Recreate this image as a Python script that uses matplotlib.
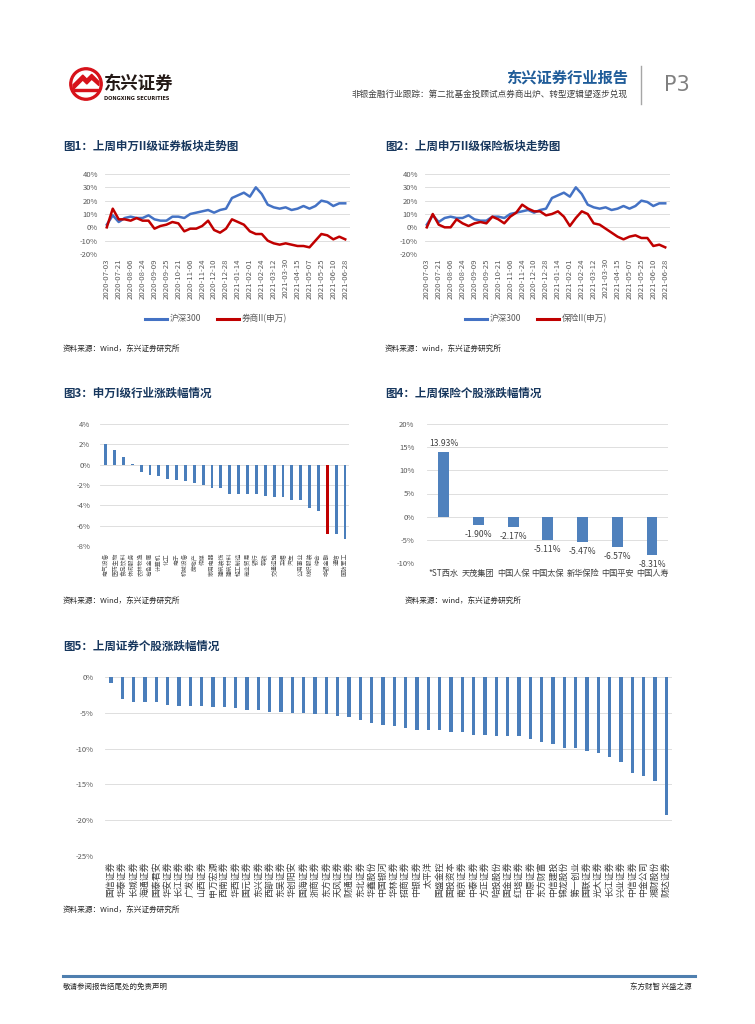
import matplotlib
matplotlib.use('Agg')
import matplotlib.pyplot as plt
from matplotlib.patches import Circle, Polygon
from matplotlib.lines import Line2D
import numpy as np

plt.rcParams['font.family'] = ['Noto Sans CJK SC', 'DejaVu Sans']
plt.rcParams['axes.unicode_minus'] = False

# ---------------- data ----------------
date_ticks = ['2020-07-03', '2020-07-21', '2020-08-06', '2020-08-24', '2020-09-09',
              '2020-09-25', '2020-10-21', '2020-11-06', '2020-11-24', '2020-12-10',
              '2020-12-28', '2021-01-14', '2021-02-01', '2021-02-24', '2021-03-12',
              '2021-03-30', '2021-04-15', '2021-05-07', '2021-05-25', '2021-06-10',
              '2021-06-28']
hs300 = [2, 9, 4, 7, 8, 7, 7, 9, 6, 5, 5, 8, 8, 7, 10, 11, 12, 13, 11, 13, 14,
         22, 24, 26, 23, 30, 25, 17, 15, 14, 15, 13, 14, 16, 14, 16, 20, 19, 16, 18, 18]
securities_ii = [0, 14, 6, 6, 5, 7, 5, 5, -1, 1, 2, 4, 3, -3, -1, -1, 1, 5, -2, -4, -1,
                 6, 4, 2, -3, -5, -5, -10, -12, -13, -12, -13, -14, -14, -15, -10, -5, -6, -9, -7, -9]
insurance_ii = [0, 10, 2, 0, 0, 6, 3, 1, 3, 4, 3, 8, 6, 3, 8, 11, 17, 14, 12, 12, 9,
                10, 12, 8, 1, 7, 12, 10, 3, 2, -1, -4, -7, -9, -7, -6, -8, -8, -14, -13, -15]

ind_names = ['电气设备', '医药生物', '食品饮料', '休闲服务', '农林牧渔', '有色金属', '计算机',
             '化工', '电子', '机械设备', '房地产', '传媒', '家用电器', '建筑装饰', '建筑材料',
             '轻工制造', '商业贸易', '银行', '钢铁', '交通运输', '采掘', '汽车', '公用事业',
             '纺织服装', '综合', '非银金融', '通信', '国防军工']
ind_chg = [2.00, 1.48, 0.72, 0.05, -0.72, -0.98, -1.15, -1.41, -1.51, -1.64, -1.84, -1.97,
           -2.26, -2.33, -2.85, -2.85, -2.85, -2.92, -3.08, -3.15, -3.15, -3.44, -3.44,
           -4.23, -4.56, -6.82, -6.82, -7.31]

ins_names = ['*ST西水', '天茂集团', '中国人保', '中国太保', '新华保险', '中国平安', '中国人寿']
ins_chg = [13.93, -1.90, -2.17, -5.11, -5.47, -6.57, -8.31]

sec_names = ['国信证券', '华泰证券', '长城证券', '海通证券', '国泰君安', '华安证券', '长江证券',
             '广发证券', '山西证券', '申万宏源', '西南证券', '华西证券', '国元证券', '东兴证券',
             '西部证券', '东吴证券', '华创阳安', '国海证券', '浙商证券', '东方证券', '天风证券',
             '财通证券', '东北证券', '华鑫股份', '中国银河', '华林证券', '招商证券', '中银证券',
             '太平洋', '国盛金控', '国投资本', '南京证券', '中泰证券', '方正证券', '哈投股份',
             '国金证券', '红塔证券', '中原证券', '东方财富', '中信建投', '锦龙股份', '第一创业',
             '国联证券', '光大证券', '长江证券', '兴业证券', '中信证券', '中金公司', '湘财股份',
             '财达证券']
sec_chg = [-0.84, -3.13, -3.46, -3.55, -3.55, -3.97, -4.07, -4.07, -4.07, -4.21, -4.25,
           -4.39, -4.63, -4.63, -4.86, -4.86, -5.09, -5.09, -5.23, -5.23, -5.51, -5.65,
           -6.03, -6.40, -6.73, -6.87, -7.06, -7.38, -7.38, -7.38, -7.62, -7.62, -8.04,
           -8.13, -8.27, -8.27, -8.27, -8.64, -9.07, -9.30, -9.95, -9.95, -10.28, -10.56,
           -11.12, -11.82, -13.36, -13.79, -14.53, -19.30]

# ---------------- helpers ----------------
W, H = 755, 1024
fig = plt.figure(figsize=(7.55, 10.24), dpi=100)

def fx(x):
    return x / W

def fy(y):
    return 1 - y / H

def add_ax(l, t, r, b):
    return fig.add_axes([fx(l), fy(b), (r - l) / W, (b - t) / H])

def ftext(x, y, s, **kw):
    fig.text(fx(x), fy(y), s, **kw)

TITLE_C = '#17375E'
GRID_C = '#D9D9D9'
TICK_C = '#595959'
BLUE = '#4472C4'
BAR = '#4A7EBB'
RED = '#C00000'

def style(ax):
    for s in ax.spines.values():
        s.set_visible(False)
    ax.tick_params(length=0)
    ax.grid(axis='y', color=GRID_C, lw=0.6)
    ax.set_axisbelow(True)

def pct_labels(vals):
    return ['%d%%' % v for v in vals]

# ---------------- header ----------------
lax = fig.add_axes([fx(69), fy(101), 34 / W, 34 / H])
lax.set_xlim(-1.05, 1.05)
lax.set_ylim(-1.05, 1.05)
lax.set_aspect('equal')
lax.axis('off')
lax.add_patch(Circle((0, 0), 1.0, color='#D7121A'))
lax.add_patch(Circle((0, 0), 0.80, color='white'))
lax.add_patch(Polygon([(-0.8, -0.05), (-0.2, 0.55), (0.05, 0.3), (0.35, 0.6), (0.8, 0.15),
                       (0.8, -0.1), (0.35, 0.3), (0.05, 0.0), (-0.2, 0.25), (-0.8, -0.35)],
                      color='#D7121A'))
lax.add_patch(Polygon([(-0.75, -0.45), (0.75, -0.45), (0.75, -0.3), (-0.75, -0.3)], color='#D7121A'))
ftext(104, 84, '东兴证券', fontsize=12.5, fontweight='bold', color='#231815', ha='left', va='center')
ftext(104, 98, 'DONGXING SECURITIES', fontsize=3.6, color='#231815', ha='left', va='center',
      family='DejaVu Sans', fontweight='bold')
ftext(628, 78, '东兴证券行业报告', fontsize=11, fontweight='bold', color='#1F5C99', ha='right', va='center')
ftext(628, 94, '非银金融行业跟踪：第二批基金投顾试点券商出炉、转型逻辑望逐步兑现', fontsize=6.2,
      color='#404040', ha='right', va='center')
fig.add_artist(Line2D([fx(641), fx(641)], [fy(66), fy(104)], color='#A6A6A6', lw=1.0))
ftext(664, 85, 'P3', fontsize=15, color='#808080', ha='left', va='center', family='DejaVu Sans')

# ---------------- titles / sources ----------------
ftext(63, 146, '图1：上周申万II级证券板块走势图', fontsize=8.3, fontweight='bold', color=TITLE_C, va='center')
ftext(385, 146, '图2：上周申万II级保险板块走势图', fontsize=8.3, fontweight='bold', color=TITLE_C, va='center')
ftext(63, 393, '图3：申万I级行业涨跌幅情况', fontsize=8.3, fontweight='bold', color=TITLE_C, va='center')
ftext(385, 393, '图4：上周保险个股涨跌幅情况', fontsize=8.3, fontweight='bold', color=TITLE_C, va='center')
ftext(63, 646, '图5：上周证券个股涨跌幅情况', fontsize=8.3, fontweight='bold', color=TITLE_C, va='center')

src_kw = dict(fontsize=5.5, color='#262626', va='center', style='italic')
ftext(63, 349, '资料来源：Wind，东兴证券研究所', **src_kw)
ftext(385, 349, '资料来源：wind，东兴证券研究所', **src_kw)
ftext(63, 601, '资料来源：Wind，东兴证券研究所', **src_kw)
ftext(405, 601, '资料来源：wind，东兴证券研究所', **src_kw)
ftext(63, 910, '资料来源：Wind，东兴证券研究所', **src_kw)

# ---------------- line charts ----------------
def line_chart(l, r, red_series, red_label, leg_x):
    ax = add_ax(l, 174, r, 254)
    x = np.arange(len(hs300))
    ax.plot(x, hs300, color=BLUE, lw=1.8, solid_joinstyle='round')
    ax.plot(x, red_series, color=RED, lw=1.8, solid_joinstyle='round')
    ax.set_ylim(-20, 40)
    yt = list(range(-20, 41, 10))
    ax.set_yticks(yt)
    ax.set_yticklabels(pct_labels(yt), fontsize=5.5, color=TICK_C)
    ax.set_xlim(-0.3, 40.8)
    ax.set_xticks(np.arange(0, 41, 2))
    ax.set_xticklabels(date_ticks, rotation=90, fontsize=5.6, color=TICK_C)
    style(ax)
    ax.tick_params(axis='y', pad=5)
    ax.tick_params(axis='x', pad=3)
    # legend
    fig.add_artist(Line2D([fx(leg_x), fx(leg_x + 22)], [fy(319), fy(319)], color=BLUE, lw=2.2))
    ftext(leg_x + 25, 319, '沪深300', fontsize=6.2, color=TICK_C, va='center')
    fig.add_artist(Line2D([fx(leg_x + 72), fx(leg_x + 94)], [fy(319), fy(319)], color=RED, lw=2.2))
    ftext(leg_x + 97, 319, red_label, fontsize=6.2, color=TICK_C, va='center')
    return ax

line_chart(105, 350, securities_ii, '券商II(申万)', 145)
line_chart(425, 670, insurance_ii, '保险II(申万)', 465)

# ---------------- fig3 ----------------
ax3 = add_ax(100, 424, 349, 546)
x3 = np.arange(len(ind_chg))
cols3 = [RED if n == '非银金融' else BAR for n in ind_names]
ax3.bar(x3, ind_chg, width=0.32, color=cols3)
ax3.set_ylim(-8, 4)
yt3 = list(range(-8, 5, 2))
ax3.set_yticks(yt3)
ax3.set_yticklabels(pct_labels(yt3), fontsize=5.5, color=TICK_C)
ax3.set_xlim(-0.64, 27.45)
ax3.set_xticks(x3)
ax3.set_xticklabels(ind_names, rotation=90, fontsize=4.2, color=TICK_C)
style(ax3)
ax3.tick_params(axis='y', pad=7)
ax3.tick_params(axis='x', pad=5)

# ---------------- fig4 ----------------
ax4 = add_ax(427, 424, 668, 563)
x4 = np.arange(len(ins_chg))
ax4.bar(x4, ins_chg, width=0.31, color='#4F81BD')
ax4.set_ylim(-10, 20)
yt4 = list(range(-10, 21, 5))
ax4.set_yticks(yt4)
ax4.set_yticklabels(pct_labels(yt4), fontsize=5.5, color=TICK_C)
ax4.set_xlim(-0.48, 6.46)
ax4.set_xticks(x4)
ax4.set_xticklabels(ins_names, fontsize=5.9, color='#404040')
style(ax4)
ax4.tick_params(axis='y', pad=9)
ax4.tick_params(axis='x', pad=4)
for i, v in enumerate(ins_chg):
    if v >= 0:
        ax4.annotate('%.2f%%' % v, xy=(i, v), xytext=(0, 3), textcoords='offset points',
                     ha='center', va='bottom', fontsize=6.2, color='#404040')
    else:
        ax4.annotate('%.2f%%' % v, xy=(i, v), xytext=(0, -3.5), textcoords='offset points',
                     ha='center', va='top', fontsize=6.2, color='#404040')

# ---------------- fig5 ----------------
ax5 = add_ax(105, 677, 672, 856)
x5 = np.arange(len(sec_chg))
ax5.bar(x5, sec_chg, width=0.28, color=BAR)
ax5.set_ylim(-25, 0)
yt5 = list(range(-25, 1, 5))
ax5.set_yticks(yt5)
ax5.set_yticklabels(pct_labels(yt5), fontsize=5.5, color=TICK_C)
ax5.set_xlim(-0.53, 49.5)
ax5.set_xticks(x5)
ax5.set_xticklabels(sec_names, rotation=90, fontsize=6.4, color='#404040')
style(ax5)
ax5.tick_params(axis='y', pad=8)
ax5.tick_params(axis='x', pad=4)

# ---------------- footer ----------------
fig.add_artist(Line2D([fx(63), fx(695)], [fy(975.5), fy(975.5)], color='#4F7FAF', lw=2.2))
ftext(63, 987, '敬请参阅报告结尾处的免责声明', fontsize=5.4, color='#262626', va='center')
ftext(692, 987, '东方财智 兴盛之源', fontsize=5.4, color='#262626', va='center', ha='right')

fig.savefig('out.png', dpi=100)
